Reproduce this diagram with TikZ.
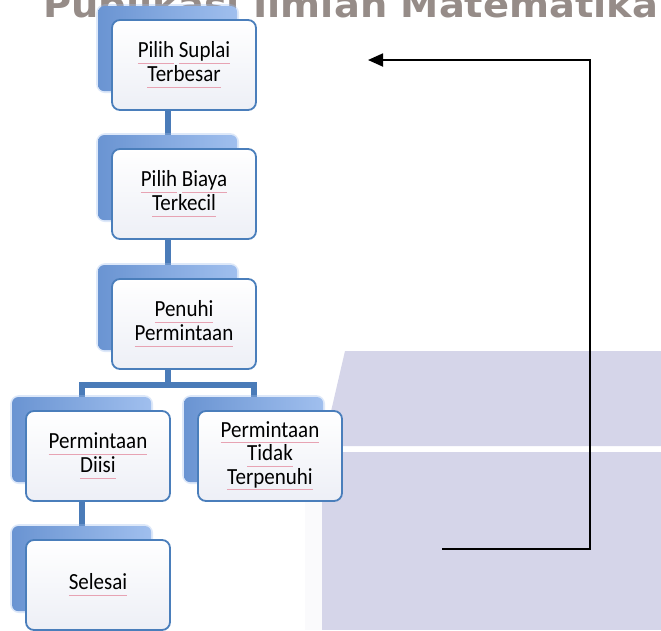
\documentclass[tikz,border=0pt]{standalone}
\usepackage{fontspec}
\usepackage{graphicx}
\setmainfont{Carlito}
\newfontfamily\titlefont{DejaVu Sans}
\usetikzlibrary{arrows.meta,calc}
\definecolor{boxline}{HTML}{4A7EBB}
\definecolor{connblue}{HTML}{4A7BB8}
\definecolor{backdark}{HTML}{6A94D2}
\definecolor{backlight}{HTML}{A0BFEE}
\definecolor{lav}{HTML}{D5D5E9}
\definecolor{faintlav}{HTML}{FAFAFC}
\definecolor{titlegray}{HTML}{968C88}
\definecolor{squig}{HTML}{E7A3B3}
\definecolor{frontbot}{HTML}{EDEFF6}
\pgfdeclarelayer{panels}
\pgfdeclarelayer{conns}
\pgfdeclarelayer{backs}
\pgfsetlayers{panels,conns,backs,main}
\newcommand\sq[1]{{\color{squig}\underline{\color{black}\vphantom{p}#1}}}
\newcommand\bt[1]{\scalebox{1}[1.1]{\begin{tabular}{@{}c@{}}#1\end{tabular}}}
\begin{document}
\begin{tikzpicture}[x=1pt,y=-1pt,
  frontbox/.style={rounded corners=8pt, draw=boxline, line width=1.8pt,
    top color=white, bottom color=frontbot, minimum width=144pt,
    minimum height=90pt, inner sep=0pt, align=center,
    font=\fontsize{21}{21.5}\selectfont},
  backbox/.style={rounded corners=6pt, left color=backdark, right color=backlight},
  backglow/.style={rounded corners=9pt, fill=backlight, opacity=0.35},
  conn/.style={draw=connblue, line width=6pt},
  arrowline/.style={draw=black, line width=1.8pt}]
\useasboundingbox (0,0) rectangle (661,630);

% nodes
\node[frontbox] (b1) at (184,65)  {\bt{\sq{Pilih} \sq{Suplai}\\\sq{Terbesar}}};
\node[frontbox] (b2) at (184,194) {\bt{\sq{Pilih} \sq{Biaya}\\\sq{Terkecil}}};
\node[frontbox] (b3) at (184,324) {\bt{\sq{Penuhi}\\\sq{Permintaan}}};
\node[frontbox] (b4) at (98,456)  {\bt{\sq{Permintaan}\\\sq{Diisi}}};
\node[frontbox] (b5) at (270,456) {\bt{\sq{Permintaan}\\\sq{Tidak}\\\sq{Terpenuhi}}};
\node[frontbox] (b6) at (98,585)  {\bt{\sq{Selesai}}};

% back boxes
\begin{pgfonlayer}{backs}
\foreach \b in {b1,b2,b3,b4,b5,b6}{
  \path[backglow] ($(\b.north west)+(-15,-15)$) rectangle ++(143,89);
  \path[backbox] ($(\b.north west)+(-13,-13)$) rectangle ++(139,85);
}
\end{pgfonlayer}

% connectors
\begin{pgfonlayer}{conns}
\coordinate (j) at (168,385);
\draw[conn] ([xshift=-16pt]b1.south) -- ([xshift=-16pt]b2.north);
\draw[conn] ([xshift=-16pt]b2.south) -- ([xshift=-16pt]b3.north);
\draw[conn] ([xshift=-16pt]b3.south) -- (j);
\draw[conn] ([xshift=-16pt]b4.north) |- (j) -| ([xshift=-16pt]b5.north);
\draw[conn] ([xshift=-16pt]b4.south) -- ([xshift=-16pt]b6.north);
\end{pgfonlayer}

% background panels and title
\begin{pgfonlayer}{panels}
\fill[white] (0,0) rectangle (661,630);
\fill[lav] (345,351) -- (661,351) -- (661,446) -- (323,446) -- cycle;
\fill[lav] (322,452) rectangle (661,630);
\fill[faintlav] (305,452) rectangle (322,630);
\node[anchor=base west, text=titlegray, inner sep=0pt] (title) at (43,17)
  {\resizebox{615pt}{27pt}{\titlefont\bfseries Publikasi Ilmiah Matematika}};
\end{pgfonlayer}

% black return arrow
\coordinate (a0) at (442,549);
\coordinate (ac) at (590,549);
\coordinate (a1) at (368,60);
\draw[arrowline,-{Triangle[length=15pt,width=13pt]}] (a0) -- (ac) |- (a1);
\end{tikzpicture}
\end{document}
